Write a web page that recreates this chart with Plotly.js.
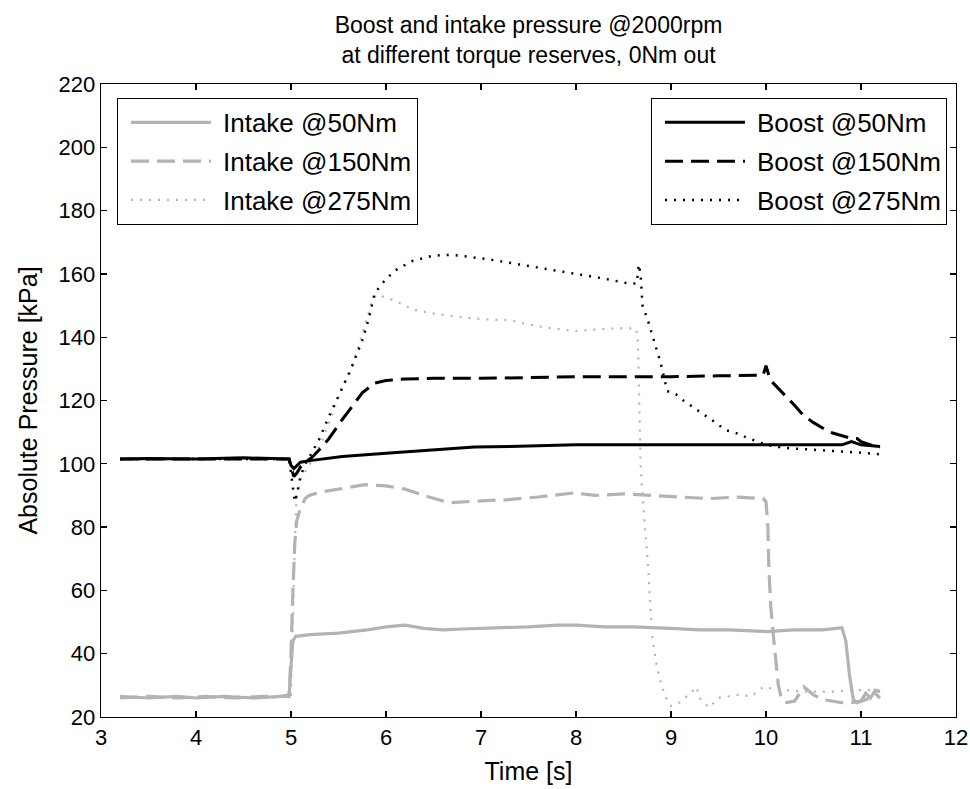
<!DOCTYPE html>
<html>
<head>
<meta charset="utf-8">
<script src="https://cdn.plot.ly/plotly-3.0.1.min.js"></script>
<style>html,body{margin:0;padding:0;background:#fff;}#chart{width:970px;height:789px;}</style>
</head>
<body>
<div id="chart"></div>
<script>
// ---- data (time [s], pressure [kPa]) ----
const tIntake50 = [3.2,3.5,3.8,4.0,4.3,4.6,4.9,4.98,5.0,5.02,5.05,5.2,5.5,5.8,6.0,6.2,6.4,6.6,6.8,7.0,7.3,7.5,7.8,8.0,8.3,8.6,9.0,9.3,9.6,10.0,10.3,10.6,10.8,10.84,10.88,10.92,10.96,11.0,11.05,11.1,11.15,11.2];
const pIntake50 = [26.5,26,26.5,26,26.5,26,26.5,27,36,44,45.5,46,46.5,47.5,48.5,49,48,47.5,47.8,48,48.2,48.5,49,49,48.5,48.5,48,47.5,47.5,47,47.5,47.5,48.2,44,33,25.5,24.5,25,27.5,26,28.5,28];

const tIntake150 = [3.2,3.5,3.8,4.1,4.4,4.7,4.98,5.0,5.02,5.04,5.06,5.1,5.15,5.19,5.3,5.5,5.78,6.0,6.2,6.4,6.66,7.0,7.29,7.6,7.98,8.2,8.5,8.8,9.1,9.4,9.7,9.97,10.0,10.02,10.03,10.05,10.08,10.1,10.13,10.16,10.2,10.3,10.4,10.5,10.6,10.8,10.9,11.0,11.1,11.15,11.2];
const pIntake150 = [26,26.5,26,26.5,26,26.5,26.5,40,60,75,82,86,89,90,91,92,93.4,93,92,90,87.7,88.3,88.7,89.5,90.8,90,90.5,90,89.5,89,89.5,89,88,80,67,55,45,38,30,26,24.5,25,29.5,27,25.5,24.5,24.5,25,26,27.5,26];

const tIntake275 = [3.2,3.6,4.0,4.4,4.8,5.0,5.02,5.04,5.06,5.1,5.2,5.33,5.45,5.55,5.61,5.7,5.8,5.86,5.9,6.0,6.1,6.2,6.3,6.5,6.8,7.1,7.3,7.5,7.7,8.0,8.2,8.4,8.58,8.62,8.65,8.66,8.67,8.68,8.7,8.73,8.76,8.8,8.85,8.9,8.95,9.0,9.1,9.2,9.27,9.3,9.4,9.5,9.7,9.85,9.97,10.1,10.4,10.7,10.9,11.2];
const pIntake275 = [26,26.5,26,26.5,26,27,50,75,90,95,100,107.5,117,125,128,136,146,152,153.5,152.5,151.5,150,148.6,147.5,146.3,145.5,145.4,144,143,142,142.5,142.8,142.8,143,141,130,115,100,90,78,67,46,36,30,26,23.5,24.7,27.5,29.5,26,23,26,27,26.6,29.5,28.8,28,28,28.5,28.5];

const tBoost50 = [3.2,3.5,4.0,4.5,4.98,5.0,5.03,5.06,5.1,5.2,5.54,6.0,6.24,6.6,6.93,7.3,7.63,8.0,8.68,9.0,9.5,10.0,10.5,10.8,10.9,11.0,11.2];
const pBoost50 = [101.5,101.7,101.5,101.9,101.5,99.5,98.5,99.5,100.5,101,102.3,103.3,103.8,104.7,105.3,105.5,105.7,106,106,106,106,106,106,106,107,106,105.5];

const tBoost150 = [3.2,4.0,4.98,5.0,5.03,5.06,5.1,5.15,5.22,5.3,5.4,5.54,5.65,5.75,5.88,6.0,6.2,6.5,7.0,7.5,8.0,8.5,9.0,9.5,9.97,10.0,10.03,10.06,10.18,10.3,10.39,10.5,10.67,10.8,10.9,10.96,11.0,11.1,11.2];
const pBoost150 = [101.5,101.5,101.5,99,96,97,99,100.5,102,104.5,108,114,118.5,122.4,125.5,126.3,126.8,127,127,127.3,127.5,127.5,127.5,127.8,128,131,128,126,122.4,118.5,115.4,113,110,109,108,108,107,106,105];

const tBoost275 = [3.2,4.0,4.98,5.0,5.02,5.04,5.06,5.1,5.15,5.22,5.3,5.4,5.54,5.64,5.75,5.82,5.88,5.96,6.09,6.27,6.5,6.7,6.9,7.1,7.4,7.7,8.0,8.3,8.55,8.64,8.66,8.68,8.7,8.75,8.82,8.89,8.96,9.05,9.13,9.2,9.31,9.47,9.57,9.68,9.78,9.9,10.0,10.2,10.5,10.8,11.0,11.2];
const pBoost275 = [101.5,101.5,101.5,97,92,88,90,96,100,103.5,108,115,124,130.6,139,146,153.8,157,161,164,165.8,166,165.3,164.5,163,161.5,160,158.5,157,157,163,160,150,146,139,132,123,122,120,118.6,116.4,113,110.7,109.8,108.5,107,106,105,104.5,104,103.5,103];

const seriesNames = ['Intake @50Nm','Intake @150Nm','Intake @275Nm','Boost @50Nm','Boost @150Nm','Boost @275Nm'];
const xTicks = [3,4,5,6,7,8,9,10,11,12];
const yTicks = [20,40,60,80,100,120,140,160,180,200,220];

const GRAY = '#b3b3b3';
const FONT = 'Liberation Sans, Arial, sans-serif';

function tr(x, y, name, color, width, dash, legend, grp) {
  return {x: x, y: y, name: name, type: 'scatter', mode: 'lines',
    line: {color: color, width: width, dash: dash},
    legend: legend, legendgroup: grp, showlegend: true, hoverinfo: 'skip'};
}

const data = [
  tr(tIntake50, pIntake50, seriesNames[0], GRAY, 3.2, 'solid', 'legend', 'a'),
  tr(tIntake150, pIntake150, seriesNames[1], GRAY, 3.2, '18px,8px', 'legend', 'b'),
  tr(tIntake275, pIntake275, seriesNames[2], GRAY, 2.2, '2px,7px', 'legend', 'c'),
  tr(tBoost50, pBoost50, seriesNames[3], '#000', 3, 'solid', 'legend2', 'd'),
  tr(tBoost150, pBoost150, seriesNames[4], '#000', 3, '18px,8px', 'legend2', 'e'),
  tr(tBoost275, pBoost275, seriesNames[5], '#000', 2.5, '2px,7px', 'legend2', 'f')
];

const legendCommon = {
  bgcolor: '#fff', bordercolor: '#000', borderwidth: 1,
  font: {family: FONT, size: 26, color: '#000'},
  itemwidth: 95, tracegroupgap: 2, traceorder: 'grouped',
  yanchor: 'top', y: 0.978
};

const layout = {
  width: 970, height: 789,
  margin: {l: 101, r: 14, t: 84, b: 72},
  paper_bgcolor: '#fff', plot_bgcolor: '#fff',
  font: {family: FONT, color: '#000', size: 22},
  title: {text: 'Boost and intake pressure @2000rpm<br>at different torque reserves, 0Nm out',
    font: {family: FONT, size: 23, color: '#000'}, x: 0.5, xref: 'paper', xanchor: 'center',
    yref: 'container', y: 0.958, yanchor: 'middle'},
  xaxis: {range: [3, 12], tickvals: xTicks, ticktext: xTicks.map(String), ticks: 'inside', ticklen: 6, tickwidth: 1.3,
    tickcolor: '#000', showline: true, linecolor: '#000', linewidth: 1.3, mirror: 'ticks', showgrid: false, zeroline: false,
    tickfont: {size: 22}, title: {text: 'Time [s]', font: {size: 25}, standoff: 13}},
  yaxis: {range: [20, 220], tickvals: yTicks, ticktext: yTicks.map(String), ticks: 'inside', ticklen: 6, tickwidth: 1.3,
    tickcolor: '#000', showline: true, linecolor: '#000', linewidth: 1.3, mirror: 'ticks', showgrid: false, zeroline: false,
    tickfont: {size: 22}, title: {text: 'Absolute Pressure [kPa]', font: {size: 25}, standoff: 13}},
  legend: Object.assign({}, legendCommon, {x: 0.0187, xanchor: 'left'}),
  legend2: Object.assign({}, legendCommon, {x: 0.9895, xanchor: 'right'}),
  showlegend: true
};

Plotly.newPlot('chart', data, layout, {displayModeBar: false, staticPlot: true}).then(function () {
  document.querySelectorAll('.legendlines path').forEach(function (p) {
    p.setAttribute('d', 'M13,0h80');
  });
});
</script>
</body>
</html>
